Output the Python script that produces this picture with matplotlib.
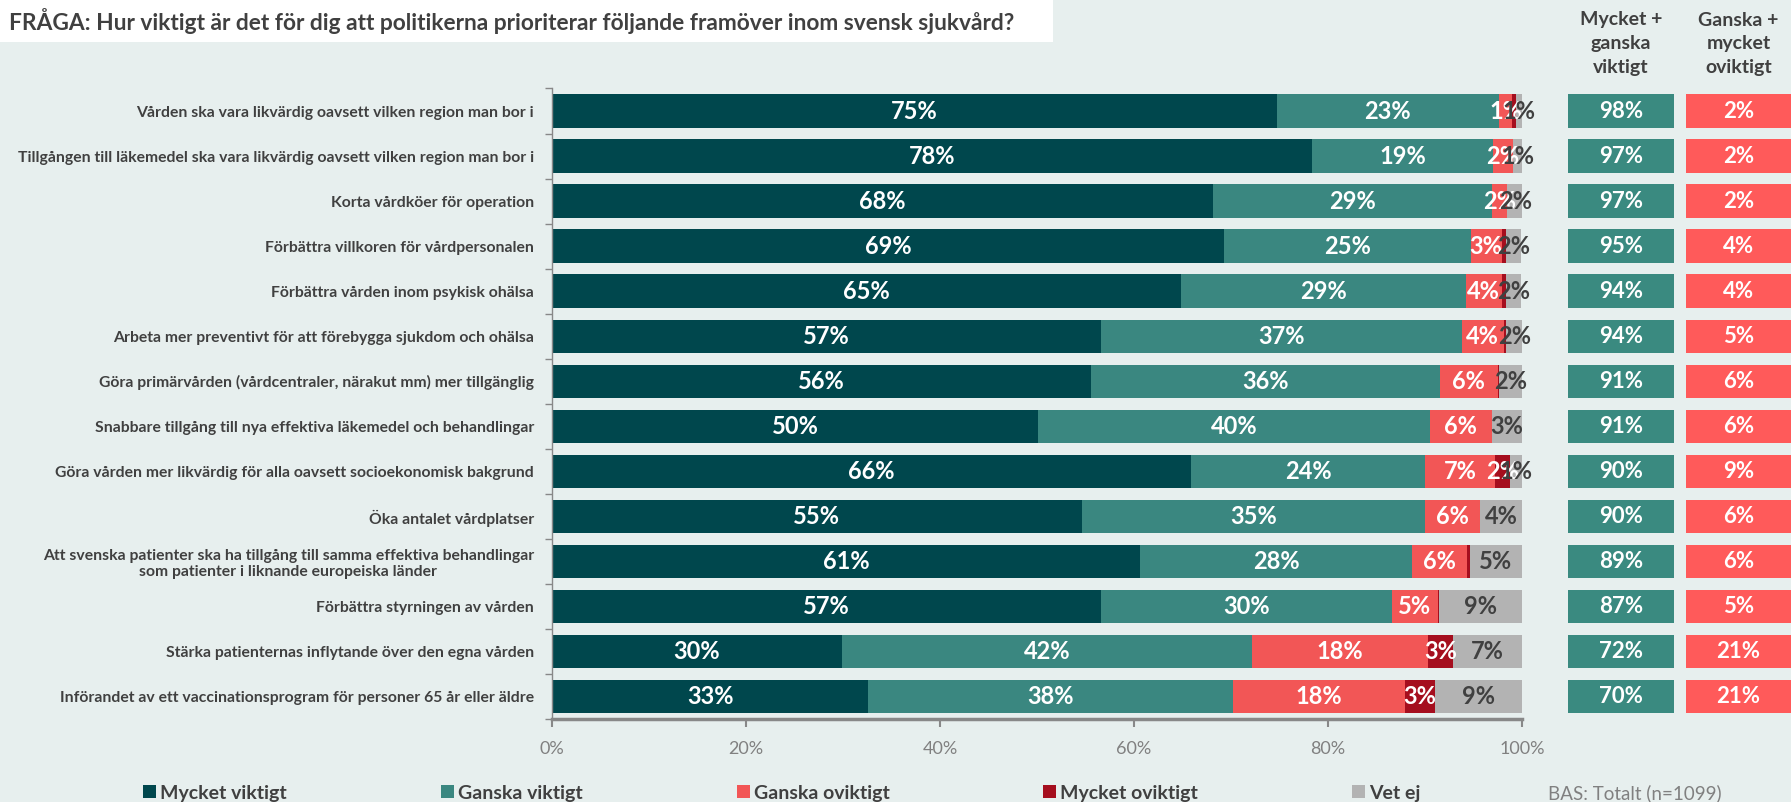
import numpy as np
import matplotlib
matplotlib.use('Agg')
import matplotlib.pyplot as plt
from matplotlib.patches import Rectangle

plt.rcParams['font.family'] = ['Lato', 'DejaVu Sans']

# **Data**
categories = [
    "Vården ska vara likvärdig oavsett vilken region man bor i",
    "Tillgången till läkemedel ska vara likvärdig oavsett vilken region man bor i",
    "Korta vårdköer för operation",
    "Förbättra villkoren för vårdpersonalen",
    "Förbättra vården inom psykisk ohälsa",
    "Arbeta mer preventivt för att förebygga sjukdom och ohälsa",
    "Göra primärvården (vårdcentraler, närakut mm) mer tillgänglig",
    "Snabbare tillgång till nya effektiva läkemedel och behandlingar",
    "Göra vården mer likvärdig för alla oavsett socioekonomisk bakgrund",
    "Öka antalet vårdplatser",
    "Att svenska patienter ska ha tillgång till samma effektiva behandlingar\nsom patienter i liknande europeiska länder",
    "Förbättra styrningen av vården",
    "Stärka patienternas inflytande över den egna vården",
    "Införandet av ett vaccinationsprogram för personer 65 år eller äldre",
]
mycket_viktigt = [74.7, 78.4, 68.1, 69.3, 64.8, 56.6, 55.6, 50.1, 65.9, 54.6, 60.6, 56.6, 29.9, 32.6]
ganska_viktigt = [22.9, 18.6, 28.8, 25.4, 29.4, 37.2, 35.9, 40.4, 24.1, 35.4, 28.1, 30.0, 42.3, 37.6]
ganska_oviktigt = [1.4, 2.1, 1.6, 3.2, 3.7, 4.3, 6.0, 6.4, 7.2, 5.7, 5.6, 4.7, 18.1, 17.7]
mycket_oviktigt = [0.4, 0.0, 0.0, 0.4, 0.4, 0.3, 0.1, 0.0, 1.6, 0.0, 0.3, 0.1, 2.6, 3.1]
vet_ej = [0.6, 0.9, 1.6, 1.6, 1.6, 1.6, 2.4, 3.1, 1.2, 4.4, 5.4, 8.6, 7.1, 9.0]

sum_viktigt = [98, 97, 97, 95, 94, 94, 91, 91, 90, 90, 89, 87, 72, 70]
sum_oviktigt = [2, 2, 2, 4, 4, 5, 6, 6, 9, 6, 6, 5, 21, 21]

series_names = ["Mycket viktigt", "Ganska viktigt", "Ganska oviktigt", "Mycket oviktigt", "Vet ej"]
series_values = [mycket_viktigt, ganska_viktigt, ganska_oviktigt, mycket_oviktigt, vet_ej]
series_colors = ['#00474D', '#3A8780', '#F25656', '#A50E1E', '#B3B3B3']
label_colors = ['white', 'white', 'white', 'white', '#404040']

x_ticks = [0, 20, 40, 60, 80, 100]

bg = '#E7EFEE'
text_dark = '#404040'
axis_gray = '#888888'

W, H = 1791, 802
fig = plt.figure(figsize=(W / 100, H / 100), dpi=100, facecolor=bg)

# title box
fig.patches.append(Rectangle((0, 1 - 42 / H), 1053 / W, 42 / H, transform=fig.transFigure,
                             facecolor='white', edgecolor='none', zorder=0))
fig.text(9 / W, 1 - 21 / H, "FRÅGA: Hur viktigt är det för dig att politikerna prioriterar följande framöver inom svensk sjukvård?",
         ha='left', va='center', fontsize=16.4, fontweight='bold', color=text_dark)

ax_bottom = (H - 719.2) / H
ax_height = 630.7 / H
ax = fig.add_axes([552 / W, ax_bottom, 970 / W, ax_height])
ax.set_facecolor(bg)

n = len(categories)
y = np.arange(n)
bar_h = 0.743
left = np.zeros(n)
handles = []
for name, vals, col, lcol in zip(series_names, series_values, series_colors, label_colors):
    vals = np.array(vals)
    b = ax.barh(y, vals, left=left, height=bar_h, color=col, label=name)
    handles.append(b)
    for yi, l, v in zip(y, left, vals):
        if round(v) >= 1:
            ax.text(l + v / 2, yi, f"{round(v)}%", ha='center', va='center',
                    fontsize=17, fontweight='bold', color=lcol)
    left = left + vals

ax.set_xlim(0, 100)
ax.set_ylim(n - 0.5, -0.5)
ax.set_yticks(y)
ax.set_yticklabels(categories, fontsize=11.3, fontweight='bold', color=text_dark,
                   multialignment='center')
ax.set_yticks(np.arange(n + 1) - 0.5, minor=True)
ax.tick_params(axis='y', which='major', length=0, pad=13)
ax.tick_params(axis='y', which='minor', length=5, color=axis_gray, width=1)
ax.set_xticks(x_ticks)
ax.set_xticklabels([f"{t}%" for t in x_ticks], fontsize=13, color='#808080')
ax.tick_params(axis='x', length=6, width=1.5, color=axis_gray, pad=10)
for s in ['top', 'right']:
    ax.spines[s].set_visible(False)
ax.spines['left'].set_color(axis_gray)
ax.spines['left'].set_linewidth(1)
ax.spines['bottom'].set_color(axis_gray)
ax.spines['bottom'].set_linewidth(2.5)

# summary columns
col_specs = [(1568, 106, sum_viktigt, '#3A8A80', "Mycket +\nganska\nviktigt"),
             (1686, 105, sum_oviktigt, '#FF5A5A', "Ganska +\nmycket\noviktigt")]
for x0, w, vals, col, head in col_specs:
    cax = fig.add_axes([x0 / W, ax_bottom, w / W, ax_height])
    cax.barh(y, np.ones(n), height=bar_h, color=col)
    for yi, v in zip(y, vals):
        cax.text(0.5, yi, f"{v}%", ha='center', va='center', fontsize=16,
                 fontweight='bold', color='white')
    cax.set_xlim(0, 1)
    cax.set_ylim(n - 0.5, -0.5)
    cax.axis('off')
    fig.text((x0 + w / 2) / W, 1 - 44 / H, head, ha='center', va='center',
             fontsize=14, fontweight='bold', color=text_dark, linespacing=1.5)

# legend
fs = 14
px = fs * 100 / 72
fig.legend(handles=handles, labels=series_names, ncol=5, loc='center left',
           bbox_to_anchor=(143 / W, 1 - 793 / H), frameon=False,
           borderaxespad=0, borderpad=0, handlelength=13 / px, handleheight=13 / px,
           handletextpad=4 / px, columnspacing=154 / px,
           prop={'size': fs, 'weight': 'bold'}, labelcolor=text_dark)
fig.text(1548 / W, 1 - 793 / H, "BAS: Totalt (n=1099)", ha='left', va='center',
         fontsize=13.5, color='#808080')

plt.savefig('out.png', dpi=100, facecolor=bg)
